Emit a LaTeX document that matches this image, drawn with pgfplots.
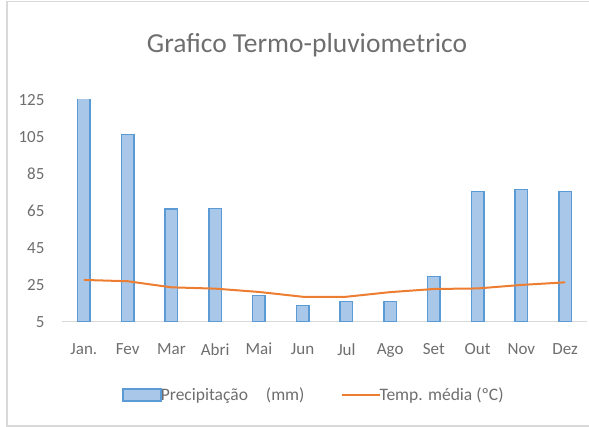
\documentclass[border=0pt]{standalone}
\usepackage{pgfplots}
\pgfplotsset{compat=1.18}
\usepackage{fontspec}
\setmainfont{Carlito}
\definecolor{txt}{HTML}{6E6E6E}
\definecolor{barfill}{HTML}{A9C7E9}
\definecolor{baredge}{HTML}{5B9BD5}
\definecolor{tline}{HTML}{ED7D31}
\definecolor{frame}{HTML}{D9D9D9}
\pgfplotsset{
  barlegend/.style={legend image code/.code={\draw[##1] (0pt,-6pt) rectangle (38pt,6pt);}},
  linelegend/.style={legend image code/.code={\draw[##1] (0pt,0pt) -- (38pt,0pt);}},
}
\begin{document}
\begin{tikzpicture}
\path[use as bounding box] (0pt,0pt) rectangle (589pt,427pt);
\draw[frame, line width=1.5pt] (600pt,425.5pt) -- (7pt,425.5pt) -- (7pt,1pt) -- (600pt,1pt);
\node[txt, font=\fontsize{27.5}{32}\selectfont] at (307pt,382pt) {Grafico Termo-pluviometrico};
\begin{axis}[
  at={(62pt,105.3pt)}, anchor=south west,
  scale only axis, width=525pt, height=221.7pt,
  xmin=-0.5, xmax=11.5, ymin=5, ymax=125,
  ytick={5,25,45,65,85,105,125},
  xtick={0,...,11},
  xticklabels={Jan.,Fev,Mar,Abri,Mai,Jun,Jul,Ago,Set,Out,Nov,Dez},
  axis x line*=bottom, axis y line*=left,
  y axis line style={draw=none},
  x axis line style={draw=frame, line width=1pt, -},
  major tick length=0pt,
  tick label style={txt, font=\fontsize{17}{20}\selectfont},
  /pgf/number format/assume math mode=true,
  yticklabel style={anchor=east, xshift=-14pt},
  xticklabel style={anchor=north, yshift=-18pt},
  legend style={at={(0.48,-0.331)}, anchor=center, draw=none, fill=none,
    font=\fontsize{17.5}{20}\selectfont, text=txt, legend columns=2,
    /tikz/every even column/.append style={column sep=34pt}},
  legend cell align=left,
]
\addplot[ybar, bar width=12.3pt, fill=barfill, draw=baredge, line width=1.5pt, barlegend]
  coordinates {(0,126.5) (1,106.4) (2,65.9) (3,66.2) (4,19.1) (5,13.8) (6,15.8) (7,15.8) (8,29.4) (9,75.4) (10,76.5) (11,75.4)};
\addlegendentry{\hspace{-3pt}Precipitação\hspace{18pt}(mm)}
\addplot[tline, line width=2pt, mark=none, linelegend]
  coordinates {(0,27.6) (1,26.9) (2,23.6) (3,22.9) (4,21.1) (5,18.5) (6,18.5) (7,21.0) (8,22.7) (9,23.0) (10,24.9) (11,26.3)};
\addlegendentry{\hspace{-3pt}Temp. média (ºC)}
\end{axis}
\end{tikzpicture}
\end{document}
